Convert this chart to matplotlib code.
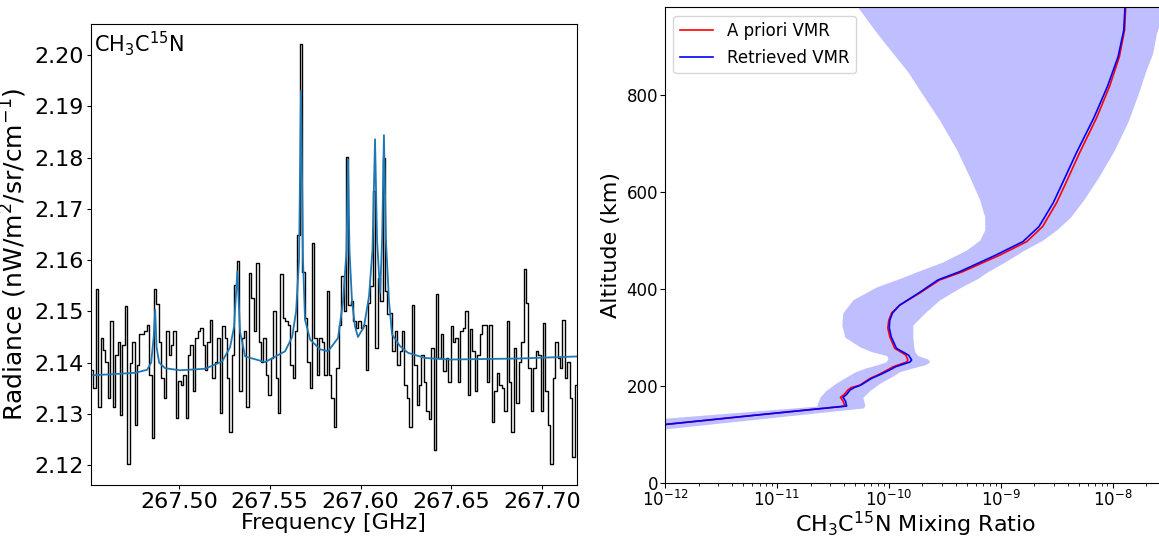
"""
CH3C15N spectrum fit and retrieved vertical profile
"""
import numpy as np
import matplotlib.pyplot as plt
from matplotlib.ticker import FormatStrFormatter

##spectrum: channel grid + radiance (nW/m2/sr/cm-1)
f_start = 267.4520
chan_width = 0.00134
radiance = [
    2.1386, 2.1350, 2.1543, 2.1314, 2.1448, 2.1425, 2.1402, 2.1331, 2.1481, 2.1314,
    2.1415, 2.1441, 2.1298, 2.1435, 2.1510, 2.1203, 2.1400, 2.1441, 2.1278, 2.1395,
    2.1455, 2.1455, 2.1461, 2.1474, 2.1376, 2.1252, 2.1543, 2.1515, 2.1441, 2.1370,
    2.1331, 2.1461, 2.1415, 2.1435, 2.1461, 2.1291, 2.1364, 2.1357, 2.1376, 2.1291,
    2.1415, 2.1435, 2.1344, 2.1448, 2.1461, 2.1468, 2.1435, 2.1386, 2.1441, 2.1484,
    2.1370, 2.1402, 2.1448, 2.1301, 2.1471, 2.1448, 2.1370, 2.1265, 2.1415, 2.1552,
    2.1598, 2.1344, 2.1448, 2.1461, 2.1314, 2.1575, 2.1526, 2.1461, 2.1595, 2.1441,
    2.1402, 2.1448, 2.1376, 2.1337, 2.1409, 2.1500, 2.1370, 2.1301, 2.1572, 2.1487,
    2.1481, 2.1474, 2.1396, 2.1370, 2.1461, 2.1650, 2.2022, 2.1576, 2.1487, 2.1402,
    2.1350, 2.1634, 2.1448, 2.1376, 2.1448, 2.1441, 2.1376, 2.1539, 2.1376, 2.1331,
    2.1275, 2.1389, 2.1474, 2.1569, 2.1500, 2.1801, 2.1513, 2.1520, 2.1481, 2.1468,
    2.1481, 2.1468, 2.1474, 2.1386, 2.1517, 2.1549, 2.1735, 2.1428, 2.1565, 2.1520,
    2.1799, 2.1539, 2.1494, 2.1497, 2.1422, 2.1461, 2.1396, 2.1422, 2.1461, 2.1357,
    2.1331, 2.1275, 2.1513, 2.1396, 2.1318, 2.1357, 2.1415, 2.1363, 2.1305, 2.1290,
    2.1428, 2.1230, 2.1533, 2.1409, 2.1455, 2.1383, 2.1409, 2.1363, 2.1471, 2.1441,
    2.1448, 2.1363, 2.1461, 2.1468, 2.1500, 2.1337, 2.1466, 2.1422, 2.1344, 2.1415,
    2.1455, 2.1474, 2.1474, 2.1363, 2.1474, 2.1285, 2.1344, 2.1379, 2.1357, 2.1350,
    2.1305, 2.1481, 2.1363, 2.1265, 2.1428, 2.1322, 2.1402, 2.1441, 2.1582, 2.1517,
    2.1389, 2.1305, 2.1389, 2.1422, 2.1415, 2.1305, 2.1477, 2.1344, 2.1278, 2.1203,
    2.1370, 2.1441, 2.1409, 2.1389, 2.1484, 2.1370, 2.1402, 2.1331, 2.1216, 2.1357,
]

##model fit (blue)
model_freq = [
    267.4513, 267.4758, 267.4824, 267.4846, 267.4860, 267.4868, 267.4876, 267.4890,
    267.4923, 267.5006, 267.5143, 267.5237, 267.5281, 267.5303, 267.5321, 267.5336,
    267.5364, 267.5474, 267.5584, 267.5623, 267.5645, 267.5661, 267.5672, 267.5683,
    267.5694, 267.5722, 267.5777, 267.5821, 267.5876, 267.5904, 267.5923, 267.5931,
    267.5939, 267.5953, 267.5970, 267.5986, 267.6019, 267.6047, 267.6066, 267.6080,
    267.6091, 267.6108, 267.6119, 267.6129, 267.6140, 267.6157, 267.6174, 267.6218,
    267.6262, 267.6355, 267.6493, 267.6879, 267.7193,
]
model_rad = [
    2.1375, 2.1380, 2.1386, 2.1400, 2.1450, 2.1503, 2.1430, 2.1400,
    2.1389, 2.1385, 2.1388, 2.1402, 2.1430, 2.1470, 2.1578, 2.1460,
    2.1412, 2.1401, 2.1422, 2.1450, 2.1500, 2.1600, 2.1931, 2.1600,
    2.1484, 2.1445, 2.1426, 2.1422, 2.1448, 2.1520, 2.1620, 2.1797,
    2.1620, 2.1520, 2.1470, 2.1450, 2.1470, 2.1530, 2.1620, 2.1836,
    2.1640, 2.1536, 2.1640, 2.1844, 2.1640, 2.1520, 2.1455, 2.1432,
    2.1419, 2.1409, 2.1406, 2.1408, 2.1412,
]
rad_ticks = [2.12, 2.13, 2.14, 2.15, 2.16, 2.17, 2.18, 2.19, 2.20]
freq_ticks = [267.50, 267.55, 267.60, 267.65, 267.70]

##vertical profiles (km, VMR)
alt = [120, 139, 158, 168, 176, 182, 191, 196, 201, 215, 224, 234, 239, 249, 253,
       263, 277, 301, 319, 335, 350, 366, 391, 418, 435, 469, 497, 528, 577, 621,
       680, 752, 817, 878, 933, 980]
vmr_apriori = [1.0e-12, 6.3e-12, 4.05e-11, 3.9e-11, 3.7e-11, 4.0e-11, 4.3e-11, 4.6e-11,
               5.5e-11, 6.8e-11, 8.3e-11, 1.0e-10, 1.09e-10, 1.45e-10, 1.48e-10,
               1.42e-10, 1.13e-10, 1.02e-10, 9.8e-11, 1.0e-10, 1.06e-10, 1.25e-10,
               1.89e-10, 2.85e-10, 4.58e-10, 9.8e-10, 1.71e-9, 2.37e-9, 3.16e-9,
               3.88e-9, 5.07e-9, 7.19e-9, 9.4e-9, 1.15e-8, 1.28e-8, 1.31e-8]
vmr_retrieved = [1.0e-12, 6.3e-12, 4.2e-11, 4.1e-11, 3.9e-11, 4.2e-11, 4.5e-11, 4.9e-11,
                 5.6e-11, 7.0e-11, 8.6e-11, 1.05e-10, 1.15e-10, 1.55e-10, 1.6e-10,
                 1.5e-10, 1.17e-10, 1.05e-10, 1.01e-10, 1.02e-10, 1.08e-10, 1.25e-10,
                 1.85e-10, 2.75e-10, 4.3e-10, 9.0e-10, 1.58e-9, 2.2e-9, 2.95e-9,
                 3.62e-9, 4.75e-9, 6.8e-9, 9.0e-9, 1.12e-8, 1.26e-8, 1.29e-8]

##error envelope
band_alt = [100, 111, 133, 154, 158, 160, 176, 190, 205, 220, 229, 236, 243, 249,
            255, 262, 270, 280, 300, 325, 350, 377, 404, 421, 435, 455, 480, 500,
            521, 548, 583, 630, 686, 747, 809, 847, 885, 927, 980]
band_lo = [1.6e-14, 6.4e-14, 1.0e-12, 1.39e-11, 2.28e-11, 2.28e-11, 2.42e-11, 2.74e-11,
           3.36e-11, 4.31e-11, 5.07e-11, 6.1e-11, 7.81e-11, 9.4e-11, 9.8e-11, 9.6e-11,
           7.05e-11, 5.51e-11, 4.05e-11, 3.8e-11, 3.88e-11, 4.77e-11, 7.81e-11,
           1.25e-10, 1.78e-10, 3.03e-10, 4.97e-10, 6.49e-10, 7.2e-10, 7.2e-10,
           6.49e-10, 5.28e-10, 4.05e-10, 2.85e-10, 1.89e-10, 1.48e-10, 1.09e-10,
           7.81e-11, 5.29e-11]
band_hi = [3.5e-13, 1.0e-12, 7.98e-12, 5.86e-11, 6.1e-11, 6.1e-11, 5.86e-11, 6.76e-11,
           8.31e-11, 1.09e-10, 1.25e-10, 1.6e-10, 2.1e-10, 2.32e-10, 2.23e-10, 1.82e-10,
           1.71e-10, 1.67e-10, 1.64e-10, 1.64e-10, 2.1e-10, 2.85e-10, 4.49e-10,
           6.24e-10, 7.65e-10, 1.09e-9, 1.64e-9, 2.37e-9, 3.16e-9, 4.22e-9, 5.51e-9,
           7.5e-9, 1.04e-8, 1.39e-8, 1.74e-8, 1.97e-8, 2.28e-8, 2.47e-8, 2.97e-8]
alt_ticks = [0, 200, 400, 600, 800]


def main():
    freq = f_start + chan_width * np.arange(len(radiance))

    fig = plt.figure(figsize=(11.59, 5.37), dpi=100)
    ax1 = fig.add_axes([0.0783, 0.0968, 0.4195, 0.8585])
    ax2 = fig.add_axes([0.5738, 0.1011, 0.4322, 0.8853])

    ##spectrum panel
    ax1.plot(freq, radiance, color='k', lw=1.0, drawstyle='steps-mid')
    ax1.plot(model_freq, model_rad, color='#1f77b4', lw=1.3)
    ax1.set_xlim(267.4513, 267.7193)
    ax1.set_ylim(2.1161, 2.2061)
    ax1.set_xticks(freq_ticks)
    ax1.set_yticks(rad_ticks)
    ax1.xaxis.set_major_formatter(FormatStrFormatter('%.2f'))
    ax1.yaxis.set_major_formatter(FormatStrFormatter('%.2f'))
    ax1.tick_params(labelsize=16, length=3, pad=2)
    ax1.set_xlabel('Frequency [GHz]', fontsize=16, labelpad=1)
    ax1.set_ylabel('Radiance (nW/m$^2$/sr/cm$^{-1}$)', fontsize=18, labelpad=4)
    ax1.text(0.006, 0.988, 'CH$_3$C$^{15}$N', transform=ax1.transAxes,
             fontsize=15, va='top', ha='left')

    ##profile panel
    ax2.fill_betweenx(band_alt, band_lo, band_hi, color='blue', alpha=0.25, lw=0)
    ax2.plot(vmr_apriori, alt, color='red', lw=1.2, label='A priori VMR')
    ax2.plot(vmr_retrieved, alt, color='blue', lw=1.2, label='Retrieved VMR')
    ax2.set_xscale('log')
    ax2.set_xlim(1e-12, 3e-8)
    ax2.set_ylim(0, 980)
    ax2.set_yticks(alt_ticks)
    ax2.tick_params(labelsize=12, pad=1.5)
    ax2.set_xlabel('CH$_3$C$^{15}$N Mixing Ratio', fontsize=16, labelpad=0)
    ax2.set_ylabel('Altitude (km)', fontsize=16)
    ax2.legend(loc='upper left', fontsize=12)

    fig.savefig('out.png', dpi=100)
    plt.close('all')


main()
